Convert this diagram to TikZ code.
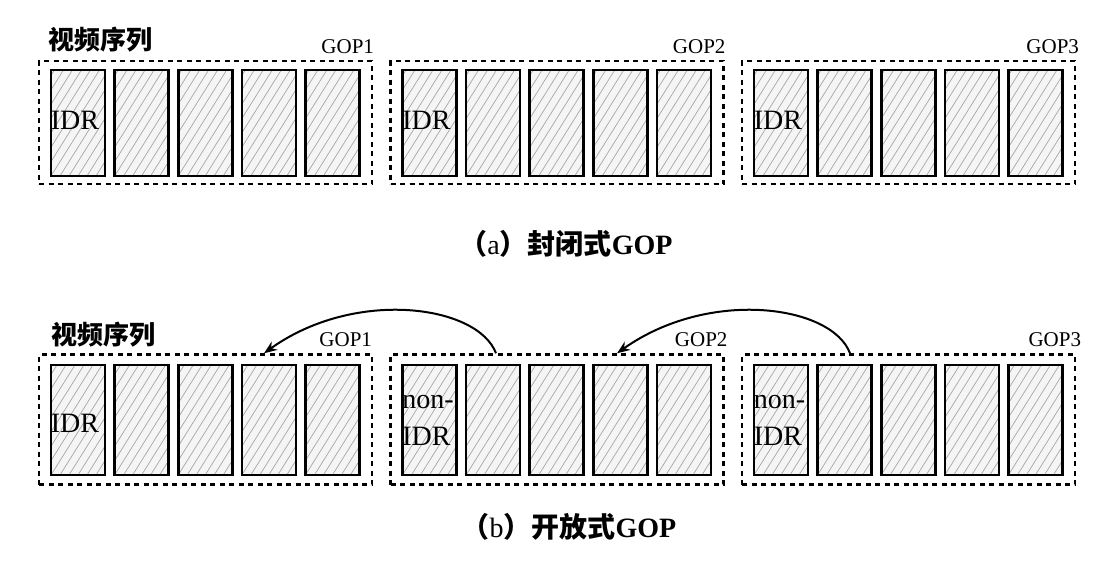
\documentclass[tikz,border=0pt]{standalone}
\usepackage{fontspec}
\setmainfont{Liberation Serif}
\newfontfamily\cjk{Noto Sans CJK SC}
\usetikzlibrary{arrows.meta,calc}
\tikzset{
  gopbox/.style={draw=black, line width=2.4pt, dash pattern=on 5pt off 4.5pt,
    minimum width=333pt, inner sep=0pt},
  frm/.style={draw=black, line width=2.6pt, fill=gray!8, minimum width=54pt,
    inner sep=0pt,
    path picture={\foreach \k in {-90,-81,...,70}
      \draw[gray!70, line width=0.7pt] ([xshift=\k pt]path picture bounding box.south west) -- ++(74,-118);}},
  goplbl/.style={anchor=base east, inner sep=0pt, font=\fontsize{21}{25}\selectfont},
  titletext/.style={inner sep=0pt, font=\cjk\bfseries\fontsize{26}{30}\selectfont},
  idrtext/.style={anchor=west, inner sep=0pt, align=left, font=\fontsize{28}{37}\selectfont},
  captext/.style={inner sep=0pt, font=\fontsize{28}{32}\selectfont},
  refarrow/.style={line width=2pt, -{Stealth[length=13pt,width=10pt]}}
}
\begin{document}
\begin{tikzpicture}[x=1pt,y=-1pt]
\path[use as bounding box] (0,0) rectangle (1101,566);
% ---------- (a) closed GOP ----------
\foreach \g in {0,1,2} {
  \node[gopbox, minimum height=123pt] (ta\g) at ({205.5+351.5*\g},122.5) {};
  \foreach \i in {0,...,4}
    \node[frm, minimum height=106pt] (fa\g\i) at ({78+351.5*\g+63.6*\i},123) {};
}
\node[goplbl] (la0) at ($(ta0.north east)+(1,-6)$) {GOP1};
\node[goplbl] (la1) at ($(ta1.north east)+(1,-6)$) {GOP2};
\node[goplbl] (la2) at ($(ta2.north east)+(3,-6)$) {GOP3};
\node[titletext] (tita) at (100,40) {视频序列};
\foreach \g in {0,1,2}
  \node[idrtext] (ia\g) at ($(fa\g0.west)+(1,-3)$) {IDR};
\node[captext] (capa) at (566,244) {{\cjk\bfseries （}a{\cjk\bfseries ）封闭式}\textbf{GOP}};
% ---------- (b) open GOP ----------
\foreach \g in {0,1,2} {
  \node[gopbox, minimum height=130pt] (tb\g) at ({205.5+351.5*\g},419.5) {};
  \foreach \i in {0,...,4}
    \node[frm, minimum height=110pt] (fb\g\i) at ({78+351.5*\g+63.6*\i},420) {};
}
\node[goplbl] (lb0) at ($(tb0.north east)+(-1,-7)$) {GOP1};
\node[goplbl] (lb1) at ($(tb1.north east)+(3,-7)$) {GOP2};
\node[goplbl] (lb2) at ($(tb2.north east)+(5,-7)$) {GOP3};
\node[titletext] (titb) at (103,335) {视频序列};
\node[idrtext] (ib0) at ($(fb00.west)+(1,3)$) {IDR};
\node[idrtext] (ib1) at ($(fb10.west)+(1,0)$) {non-\\IDR};
\node[idrtext] (ib2) at ($(fb20.west)+(1,0)$) {non-\\IDR};
\node[captext] (capb) at (569,527) {{\cjk\bfseries （}b{\cjk\bfseries ）开放式}\textbf{GOP}};
% reference arrows
\coordinate (s1) at (tb1.north -| 496,0);
\coordinate (e1) at (tb0.north -| 264,0);
\coordinate (s2) at (tb2.north -| 850,0);
\coordinate (e2) at (tb1.north -| 617,0);
\draw[refarrow] (s1) .. controls (478,305) and (355,288) .. (e1);
\draw[refarrow] (s2) .. controls (832,305) and (709,288) .. (e2);
\end{tikzpicture}
\end{document}
